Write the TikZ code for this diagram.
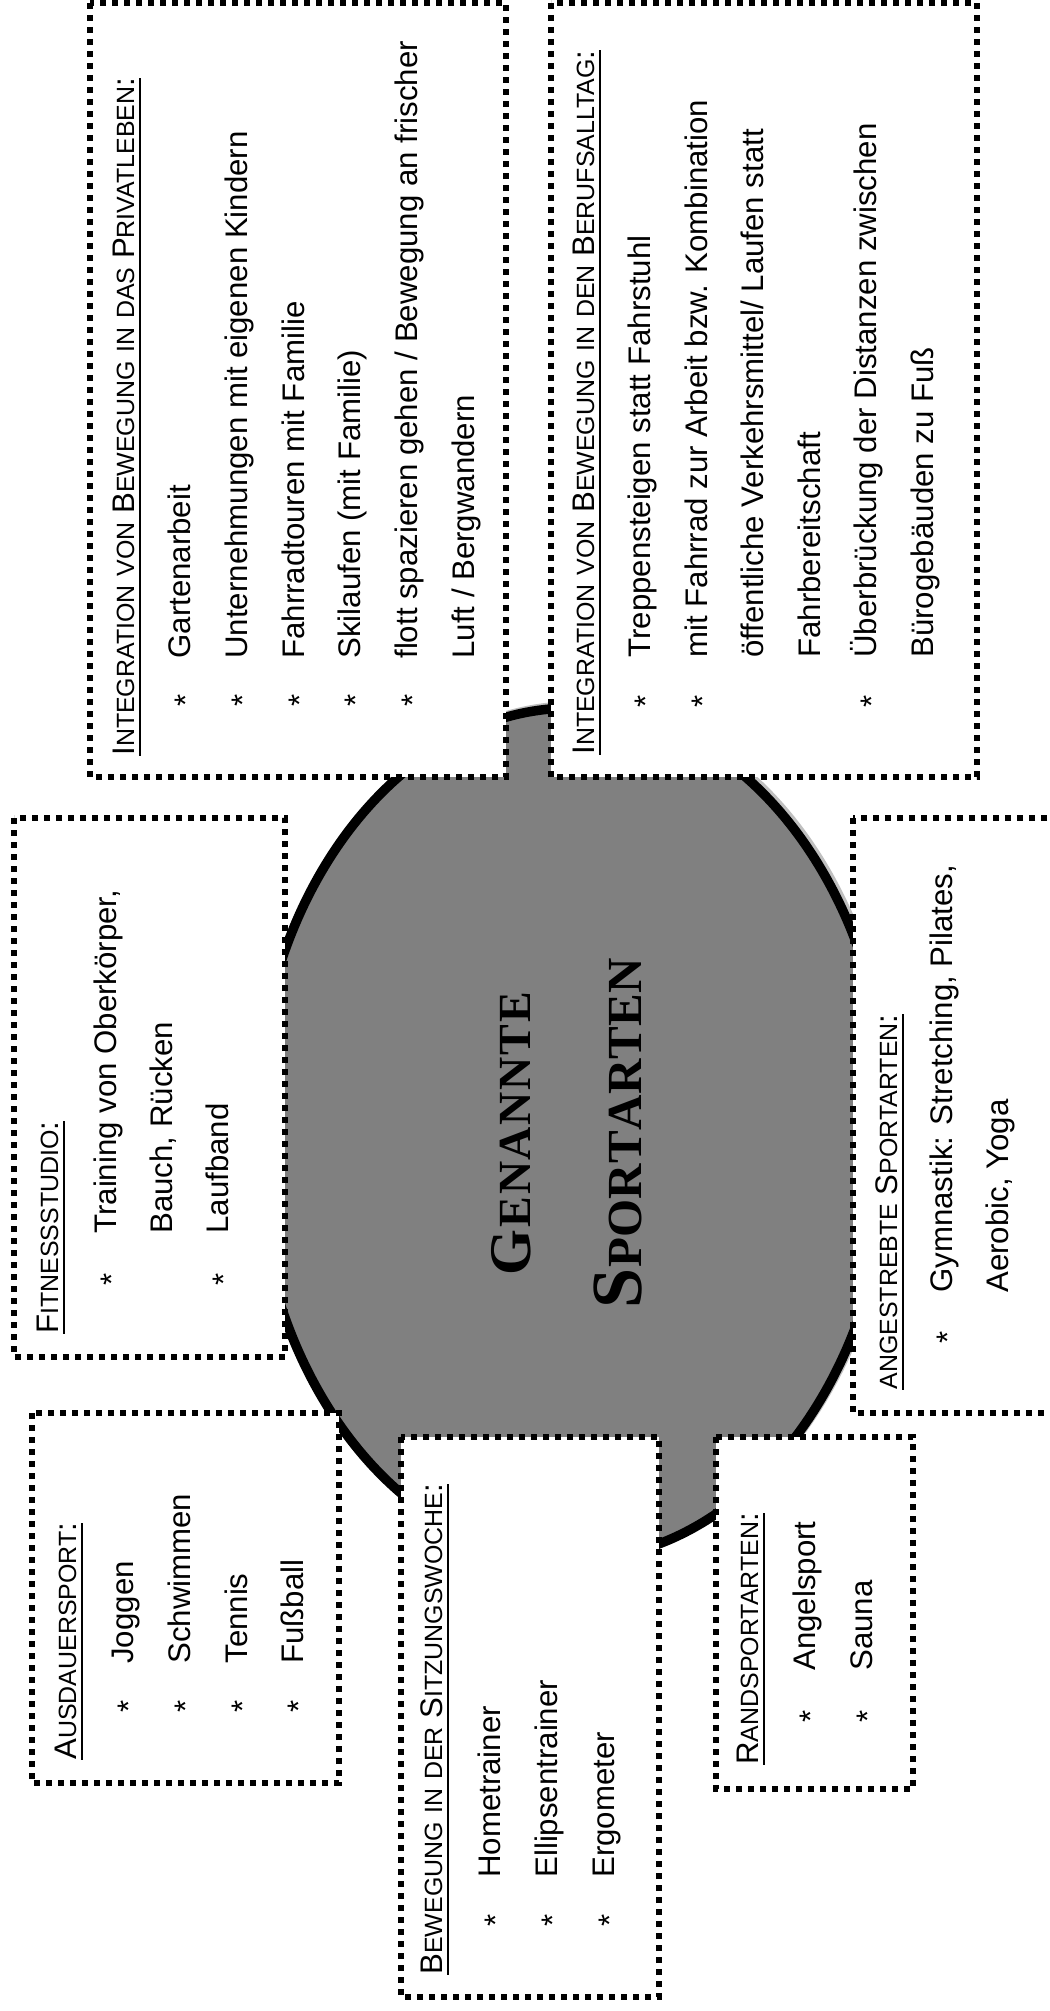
\documentclass[tikz,border=0pt]{standalone}
\usepackage{fontspec}
\usepackage{graphicx}
\setmainfont{Liberation Sans}
\newfontfamily\titlefont{Liberation Serif}
\usetikzlibrary{shapes.geometric}

\definecolor{corefill}{RGB}{128,128,128}
\definecolor{coreshade}{RGB}{192,192,192}

\newcommand\bodyfont{\fontsize{15.6pt}{18pt}\selectfont}
% small capitals built from scaled capitals
\newcommand\kap[1]{\scalebox{0.8}{#1}}
% underlined heading
\newsavebox\headbox
\newcommand\ulhead[1]{\sbox\headbox{#1}\rlap{\rule[-3.6pt]{\wd\headbox}{1.3pt}}\usebox\headbox}

\tikzset{
  panel/.style={fill=white, draw=black, line width=2.8pt, dash pattern=on 2.8pt off 3.2pt},
  txt/.style={rotate=90, anchor=base west, inner sep=0pt, font=\bodyfont},
  star/.style={rotate=90, anchor=base, inner sep=0pt, font=\bodyfont},
  ttl/.style={rotate=90, anchor=base, inner sep=0pt, font=\titlefont\bfseries},
}

\begin{document}
\begin{tikzpicture}[x=0.5pt, y=-0.5pt]
\useasboundingbox (0,0) rectangle (1049,2011);

% central oval with its shade
\coordinate (corec) at (572,1134);
\fill[coreshade] ([shift={(1.25pt,1pt)}]corec) ellipse [x radius=161.4pt, y radius=215.4pt];
\node[ellipse, draw=black, fill=corefill, line width=4.75pt, minimum width=318pt, minimum height=426pt, inner sep=0pt] (core) at (corec) {};

% dotted panels
\path[panel] (90,3) rectangle (506,777);
\path[panel] (551,3) rectangle (977,777);
\path[panel] (14,818) rectangle (285,1357);
\path[panel] (853,818) rectangle (1075,1413);
\path[panel] (32,1413) rectangle (339,1783);
\path[panel] (401,1437) rectangle (659,1997);
\path[panel] (716,1437) rectangle (913,1789);

% title
\node[ttl] (t1) at (530,1133.5) {\makebox[141.5pt][s]{\fontsize{29.5pt}{29pt}\selectfont G\hfil\fontsize{23pt}{23pt}\selectfont E\hfil N\hfil A\hfil N\hfil N\hfil T\hfil E}};
\node[ttl] (t2) at (641,1133) {\makebox[175pt][s]{\fontsize{36pt}{36pt}\selectfont S\hfil\fontsize{24.5pt}{24pt}\selectfont P\hfil O\hfil R\hfil T\hfil A\hfil R\hfil T\hfil E\hfil N}};

% Privatleben
\node[txt] (p0) at (134,756) {\ulhead{I\kap{NTEGRATION} \kap{VON} B\kap{EWEGUNG} \kap{IN} \kap{DAS} P\kap{RIVATLEBEN}:}};
\node[star] (p1s) at (196.5,700) {*};
\node[txt] (p1) at (190.5,659) {Gartenarbeit};
\node[star] (p2s) at (253,700) {*};
\node[txt] (p2) at (247,659) {Unternehmungen mit eigenen Kindern};
\node[star] (p3s) at (310,700) {*};
\node[txt] (p3) at (304,659) {Fahrradtouren mit Familie};
\node[star] (p4s) at (366.5,700) {*};
\node[txt] (p4) at (360.5,659) {Skilaufen (mit Familie)};
\node[star] (p5s) at (423,700) {*};
\node[txt] (p5) at (417,659) {flott spazieren gehen / Bewegung an frischer};
\node[txt] (p6) at (474,659) {Luft / Bergwandern};

% Berufsalltag
\node[txt] (q0) at (594,755) {\ulhead{I\kap{NTEGRATION} \kap{VON} B\kap{EWEGUNG} \kap{IN} \kap{DEN} B\kap{ERUFSALLTAG}:}};
\node[star] (q1s) at (656.5,701) {*};
\node[txt] (q1) at (650.5,658) {Treppensteigen statt Fahrstuhl};
\node[star] (q2s) at (713,701) {*};
\node[txt] (q2) at (707,658) {mit Fahrrad zur Arbeit bzw. Kombination};
\node[txt] (q3) at (763.5,658) {öffentliche Verkehrsmittel/ Laufen statt};
\node[txt] (q4) at (820,658) {Fahrbereitschaft};
\node[star] (q5s) at (882.5,701) {*};
\node[txt] (q5) at (876.5,658) {Überbrückung der Distanzen zwischen};
\node[txt] (q6) at (933,658) {Bürogebäuden zu Fuß};

% Fitnessstudio
\node[txt] (f0) at (58,1334) {\ulhead{F\kap{ITNESSSTUDIO}:}};
\node[star] (f1s) at (122,1279) {*};
\node[txt] (f1) at (116,1234) {Training von Oberkörper,};
\node[txt] (f2) at (172,1234) {Bauch, Rücken};
\node[star] (f3s) at (234,1279) {*};
\node[txt] (f3) at (228,1234) {Laufband};

% angestrebte Sportarten
\node[txt] (a0) at (897,1390) {\ulhead{\kap{ANGESTREBTE} S\kap{PORTARTEN}:}};
\node[star] (a1s) at (958,1337) {*};
\node[txt] (a1) at (952,1293) {Gymnastik: Stretching, Pilates,};
\node[txt] (a2) at (1008,1293) {Aerobic, Yoga};

% Ausdauersport
\node[txt] (d0) at (76,1760) {\ulhead{A\kap{USDAUERSPORT}:}};
\node[star] (d1s) at (139,1706) {*};
\node[txt] (d1) at (133,1664) {Joggen};
\node[star] (d2s) at (196,1706) {*};
\node[txt] (d2) at (190,1664) {Schwimmen};
\node[star] (d3s) at (253,1706) {*};
\node[txt] (d3) at (247,1664) {Tennis};
\node[star] (d4s) at (309,1706) {*};
\node[txt] (d4) at (303,1664) {Fußball};

% Sitzungswoche
\node[txt] (s0) at (442,1975) {\ulhead{B\kap{EWEGUNG} \kap{IN} \kap{DER} S\kap{ITZUNGSWOCHE}:}};
\node[star] (s1s) at (506,1920) {*};
\node[txt] (s1) at (500,1878) {Hometrainer};
\node[star] (s2s) at (563,1920) {*};
\node[txt] (s2) at (557,1878) {Ellipsentrainer};
\node[star] (s3s) at (620,1920) {*};
\node[txt] (s3) at (614,1878) {Ergometer};

% Randsportarten
\node[txt] (r0) at (758,1765) {\ulhead{R\kap{ANDSPORTARTEN}:}};
\node[star] (r1s) at (821,1716) {*};
\node[txt] (r1) at (815,1671) {Angelsport};
\node[star] (r2s) at (878,1716) {*};
\node[txt] (r2) at (872,1671) {Sauna};
\end{tikzpicture}
\end{document}
